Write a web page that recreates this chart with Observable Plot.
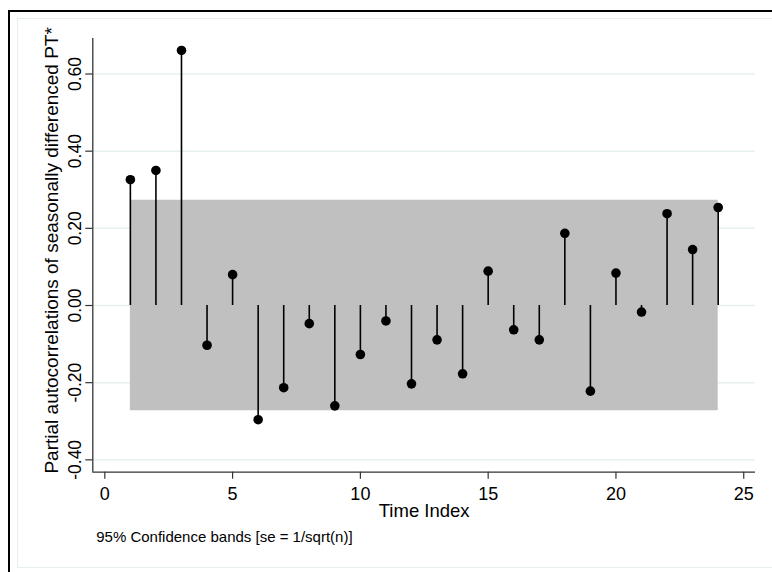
<!DOCTYPE html>
<html>
<head>
<meta charset="utf-8">
<script src="https://cdn.jsdelivr.net/npm/d3@7"></script>
<script src="https://cdn.jsdelivr.net/npm/@observablehq/plot@0.6"></script>
<style>
  html, body { margin: 0; padding: 0; background: #fff; }
  #wrap { position: relative; width: 772px; height: 572px; overflow: hidden; background: #fff; }
  #outer { position: absolute; left: 8px; top: 10px; width: 800px; height: 600px; border-left: 2px solid #000; border-top: 2px solid #000; }
  #inner { position: absolute; left: 17px; top: 18px; width: 800px; height: 548px; border: 1px solid #e6eeef; border-right: none; }
  #chart { position: absolute; left: 0; top: 0; }
</style>
</head>
<body>
<div id="wrap"><div id="outer"></div><div id="inner"></div><div id="chart"></div></div>
<script>
// Data
const lags = [1, 2, 3, 4, 5, 6, 7, 8, 9, 10, 11, 12, 13, 14, 15, 16, 17, 18, 19, 20, 21, 22, 23, 24];
const pacf = [0.326, 0.350, 0.661, -0.103, 0.080, -0.296, -0.213, -0.047, -0.260, -0.127, -0.040, -0.203,
              -0.089, -0.177, 0.089, -0.063, -0.089, 0.187, -0.222, 0.084, -0.017, 0.238, 0.145, 0.254];
const band = 0.273; // 95% confidence band half-width
const xTicks = [0, 5, 10, 15, 20, 25];
const yTicks = [-0.4, -0.2, 0, 0.2, 0.4, 0.6];
const xTitle = "Time Index";
const yTitle = "Partial autocorrelations of seasonally differenced PT*";
const caption = "95% Confidence bands [se = 1/sqrt(n)]";

const data = lags.map((lag, i) => ({lag, pacf: pacf[i]}));
const xDomain = [-0.47, 25.46];
const yDomain = [-0.432, 0.692];
const axisColor = "#333";
const font = "'Liberation Sans', Arial, Helvetica, sans-serif";

const chart = Plot.plot({
  width: 772,
  height: 572,
  marginLeft: 92.3,
  marginRight: 17,
  marginTop: 38,
  marginBottom: 100.3,
  style: {fontFamily: font, fontSize: "18px", background: "transparent", color: "#000"},
  x: {domain: xDomain},
  y: {domain: yDomain},
  marks: [
    Plot.gridY(yTicks, {stroke: "#e8eff0", strokeOpacity: 1, strokeWidth: 1.5}),
    Plot.areaY(data, {x: "lag", y1: () => -band, y2: () => band, fill: "#c0c0c0"}),
    Plot.ruleX(data, {x: "lag", y1: () => 0, y2: "pacf", stroke: "#000", strokeWidth: 1.6}),
    Plot.dot(data, {x: "lag", y: "pacf", r: 4.8, fill: "#000", stroke: "none"}),
    Plot.axisX({ticks: xTicks, tickSize: 7, tickPadding: 8, fontSize: 18, label: null, stroke: axisColor, strokeWidth: 1.2}),
    Plot.axisY({ticks: yTicks, tickSize: 7, tickFormat: () => "", label: null, stroke: axisColor, strokeWidth: 1.2}),
    Plot.text(yTicks, {y: d => d, text: d => d.toFixed(2), frameAnchor: "left", rotate: -90,
      textAnchor: "middle", lineAnchor: "bottom", dx: -12.3, fontSize: 17.5, fill: "#000"}),
    Plot.ruleX([xDomain[0]], {stroke: axisColor, strokeWidth: 1.3}),
    Plot.ruleY([yDomain[0]], {stroke: axisColor, strokeWidth: 1.3}),
    Plot.text([xTitle], {text: d => d, frameAnchor: "bottom", dy: 45, lineAnchor: "bottom", fontSize: 18.5, fill: "#000"}),
    Plot.text([yTitle], {text: d => d, frameAnchor: "left", rotate: -90, textAnchor: "middle",
      lineAnchor: "bottom", dx: -34.8, dy: -5, fontSize: 19, fill: "#000"}),
    Plot.text([caption], {text: d => d, frameAnchor: "bottom-left", textAnchor: "start", lineAnchor: "bottom",
      dx: 3.4, dy: 70, fontSize: 15, fill: "#000"})
  ]
});
document.getElementById("chart").appendChild(chart);
</script>
</body>
</html>
